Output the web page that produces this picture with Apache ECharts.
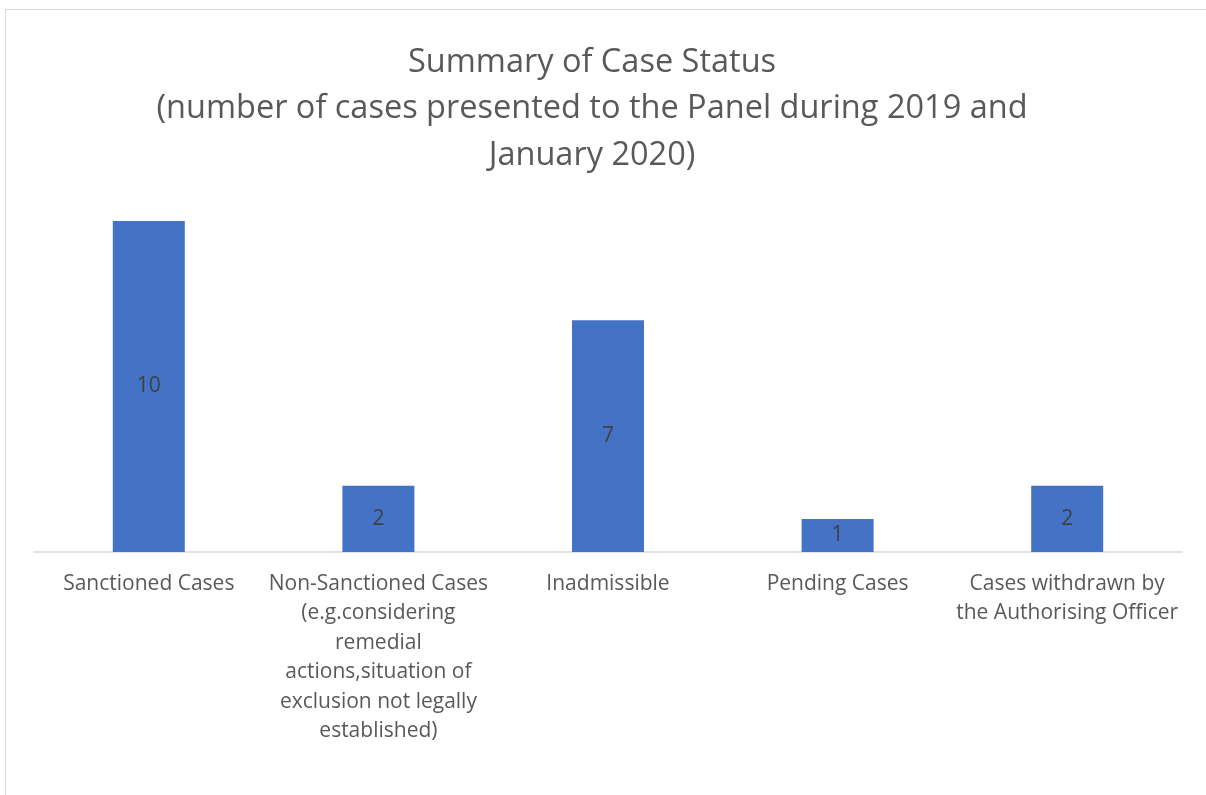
<!DOCTYPE html>
<html>
<head>
<meta charset="utf-8">
<script src="https://cdn.jsdelivr.net/npm/echarts@6/dist/echarts.min.js"></script>
<style>
  html, body { margin: 0; padding: 0; background: #ffffff; }
  #frame { position: absolute; left: 5px; top: 9px; width: 1201px; height: 786px; border-left: 1.5px solid #d9d9d9; border-top: 1.5px solid #d9d9d9; box-sizing: border-box; }
  #chart { position: absolute; left: 0; top: 0; width: 1206px; height: 795px; }
</style>
</head>
<body>
<div id="frame"></div>
<div id="chart"></div>
<script>
const titleLines = [
  'Summary of Case Status',
  '(number of cases presented to the Panel during 2019 and',
  'January 2020)'
];
const categories = [
  'Sanctioned Cases',
  'Non-Sanctioned Cases (e.g.considering remedial actions,situation of exclusion not legally established)',
  'Inadmissible',
  'Pending Cases',
  'Cases withdrawn by the Authorising Officer'
];
const tickLabels = [
  'Sanctioned Cases',
  'Non-Sanctioned Cases\n(e.g.considering\nremedial\nactions,situation of\nexclusion not legally\nestablished)',
  'Inadmissible',
  'Pending Cases',
  'Cases withdrawn by\nthe Authorising Officer'
];
const caseCounts = [10, 2, 7, 1, 2];

const chart = echarts.init(document.getElementById('chart'), null, { renderer: 'canvas' });
chart.setOption({
  backgroundColor: 'transparent',
  animation: false,
  textStyle: { fontFamily: '"Open Sans", sans-serif' },
  title: {
    text: titleLines.join('\n'),
    left: 592,
    top: 39,
    textAlign: 'center',
    padding: 0,
    textStyle: {
      fontFamily: '"Open Sans", sans-serif',
      fontSize: 32.5,
      fontWeight: 'normal',
      color: '#595959',
      lineHeight: 46.5
    }
  },
  grid: { left: 34, right: 24, top: 221, bottom: 243, containLabel: false },
  xAxis: {
    type: 'category',
    data: categories,
    axisLine: { show: true, lineStyle: { color: '#d9d9d9', width: 1.5 } },
    axisTick: { show: false },
    axisLabel: {
      interval: 0,
      margin: 17,
      color: '#595959',
      fontFamily: '"Open Sans", sans-serif',
      fontSize: 21,
      lineHeight: 29.5,
      align: 'center',
      formatter: function (value, index) { return tickLabels[index]; }
    }
  },
  yAxis: {
    type: 'value',
    min: 0,
    max: 10,
    show: false,
    splitLine: { show: false }
  },
  series: [{
    type: 'bar',
    data: caseCounts,
    barWidth: 72,
    itemStyle: { color: '#4472C4' },
    label: {
      show: true,
      position: 'inside',
      color: '#404040',
      fontFamily: '"Open Sans", sans-serif',
      fontSize: 21
    }
  }]
});
</script>
</body>
</html>
